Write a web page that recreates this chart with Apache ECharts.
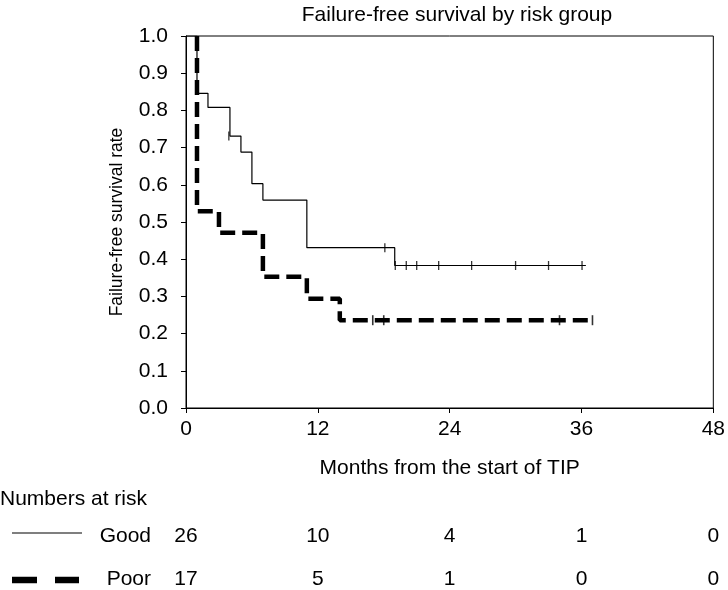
<!DOCTYPE html>
<html>
<head>
<meta charset="utf-8">
<script src="https://cdn.jsdelivr.net/npm/echarts@6/dist/echarts.min.js"></script>
<style>
  html, body { margin: 0; padding: 0; background: #fff; }
  #chart { width: 728px; height: 590px; }
</style>
</head>
<body>
<div id="chart"></div>
<script>
// step changes (month, survival) per group
const goodTimes = [0, 1, 2, 4, 5, 6, 7, 11, 19, 36.4];
const goodSurv = [1, 0.846, 0.808, 0.731, 0.688, 0.603, 0.559, 0.431, 0.383, 0.383];
const goodCensorTimes = [3.9, 18.1, 19.05, 20.05, 21, 23, 26, 30, 33, 36.05];
const goodCensorSurv = [0.731, 0.431, 0.383, 0.383, 0.383, 0.383, 0.383, 0.383, 0.383, 0.383];

// poor curve is drawn from its first drop (the 1.0 part sits on the frame)
const poorTimes = [1, 1, 3, 7, 11, 14, 37];
const poorSurv = [1, 0.529, 0.471, 0.353, 0.294, 0.236, 0.236];
const poorCensorTimes = [17, 18, 34, 37];
const poorCensorSurv = [0.236, 0.236, 0.236, 0.236];

const xTicks = [0, 12, 24, 36, 48];
const riskGood = [26, 10, 4, 1, 0];
const riskPoor = [17, 5, 1, 0, 0];

const FONT = 'Liberation Sans';
const FS = 21;

const zip = (a, b) => a.map((v, i) => [v, b[i]]);

const chart = echarts.init(document.getElementById('chart'), null, { renderer: 'canvas' });

chart.setOption({
    animation: false,
    backgroundColor: '#fff',
    textStyle: { fontFamily: FONT, color: '#000' },
    title: {
        text: 'Failure-free survival by risk group',
        left: 452,
        textAlign: 'center',
        top: 0,
        textStyle: { fontFamily: FONT, fontSize: FS, fontWeight: 'normal', color: '#000' }
    },
    grid: {
        left: 186, right: 12, top: 36, bottom: 182,
        show: true, borderColor: '#000', borderWidth: 1, backgroundColor: 'transparent'
    },
    xAxis: {
        type: 'value',
        min: 0, max: 48, interval: 12,
        name: 'Months from the start of TIP',
        nameLocation: 'middle',
        nameGap: 50,
        nameTextStyle: { fontFamily: FONT, fontSize: FS, color: '#000' },
        axisLine: { lineStyle: { color: '#000', width: 1 } },
        axisTick: { show: true, length: 5, lineStyle: { color: '#000' } },
        axisLabel: { fontFamily: FONT, fontSize: FS, color: '#000', margin: 11 },
        splitLine: { show: false }
    },
    yAxis: {
        type: 'value',
        min: 0, max: 1, interval: 0.1,
        name: 'Failure-free survival rate',
        nameLocation: 'middle',
        nameGap: 60,
        nameTextStyle: { fontFamily: FONT, fontSize: 17.5, color: '#000' },
        axisLine: { show: true, lineStyle: { color: '#000', width: 1 } },
        axisTick: { show: true, length: 5, lineStyle: { color: '#000' } },
        axisLabel: {
            fontFamily: FONT, fontSize: FS, color: '#000', margin: 18,
            formatter: v => v.toFixed(1)
        },
        splitLine: { show: false }
    },
    series: [
        {
            name: 'Good',
            type: 'line',
            step: 'end',
            data: zip(goodTimes, goodSurv),
            showSymbol: false,
            lineStyle: { color: '#000', width: 1.2 },
            z: 3
        },
        {
            name: 'Poor',
            type: 'line',
            step: 'end',
            data: zip(poorTimes, poorSurv),
            showSymbol: false,
            lineStyle: { color: '#000', width: 4.5, type: [15, 7] },
            z: 2
        },
        {
            name: 'Good censored',
            type: 'scatter',
            data: zip(goodCensorTimes, goodCensorSurv),
            symbol: 'rect',
            symbolSize: [1.3, 9],
            itemStyle: { color: '#000' },
            z: 4
        },
        {
            name: 'Poor censored',
            type: 'scatter',
            data: zip(poorCensorTimes, poorCensorSurv),
            symbol: 'rect',
            symbolSize: [1.6, 10],
            itemStyle: { color: '#000' },
            z: 4
        }
    ]
});

// numbers at risk table under the axis
const txt = (text, x, y, align) => ({
    type: 'text',
    x: x, y: y,
    style: {
        text: text, fill: '#000', font: FS + 'px "' + FONT + '"',
        textAlign: align, textVerticalAlign: 'middle'
    }
});

const graphics = [
    txt('Numbers at risk', 0, 499, 'left'),
    txt('Good', 151, 536, 'right'),
    txt('Poor', 151, 579, 'right'),
    { type: 'line', shape: { x1: 12, y1: 533, x2: 82, y2: 533 }, style: { stroke: '#000', lineWidth: 1.2 } },
    { type: 'line', shape: { x1: 12, y1: 580, x2: 37, y2: 580 }, style: { stroke: '#000', lineWidth: 6.5 } },
    { type: 'line', shape: { x1: 55, y1: 580, x2: 79, y2: 580 }, style: { stroke: '#000', lineWidth: 6.5 } }
];
xTicks.forEach((t, i) => {
    const px = chart.convertToPixel({ xAxisIndex: 0 }, t);
    graphics.push(txt(String(riskGood[i]), px, 536, 'center'));
    graphics.push(txt(String(riskPoor[i]), px, 579, 'center'));
});
chart.setOption({ graphic: graphics });
</script>
</body>
</html>
